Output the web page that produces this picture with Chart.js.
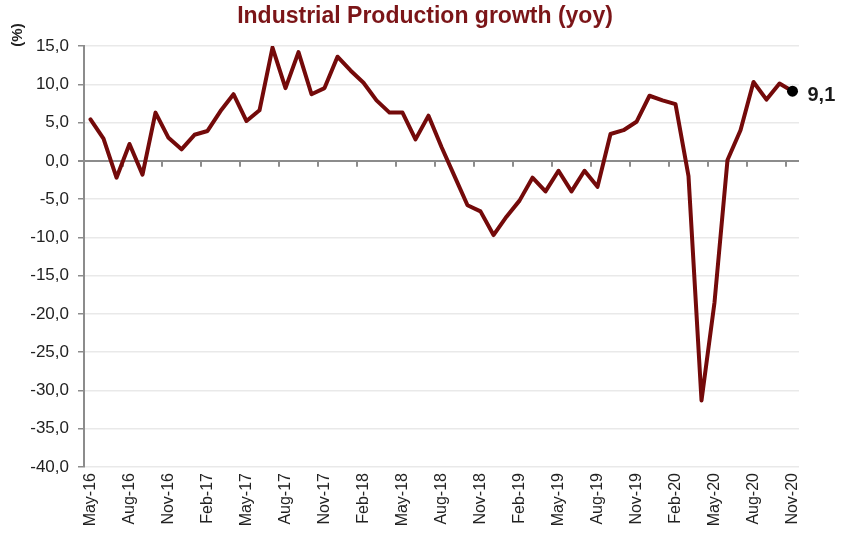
<!doctype html>
<html>
  <head>
    <meta charset="utf-8">
    <title>Industrial Production growth (yoy)</title>
    <style>
      html, body {
        margin: 0;
        background: #fff;
      }
      #wrap {
        width: 849px;
        height: 544px;
      }
    </style>
  </head>
  <body>
    <div id="wrap">
      <canvas id="canvas" width="849" height="544"></canvas>
    </div>

    <script src="https://cdn.jsdelivr.net/npm/chart.js@4/dist/chart.umd.min.js"></script>
    <script>
      var chartTitle = 'Industrial Production growth (yoy)'
      var unitLabel = '(%)'

      var months = [
        'May-16', 'Jun-16', 'Jul-16', 'Aug-16', 'Sep-16', 'Oct-16', 'Nov-16', 'Dec-16',
        'Jan-17', 'Feb-17', 'Mar-17', 'Apr-17', 'May-17', 'Jun-17', 'Jul-17', 'Aug-17', 'Sep-17', 'Oct-17', 'Nov-17', 'Dec-17',
        'Jan-18', 'Feb-18', 'Mar-18', 'Apr-18', 'May-18', 'Jun-18', 'Jul-18', 'Aug-18', 'Sep-18', 'Oct-18', 'Nov-18', 'Dec-18',
        'Jan-19', 'Feb-19', 'Mar-19', 'Apr-19', 'May-19', 'Jun-19', 'Jul-19', 'Aug-19', 'Sep-19', 'Oct-19', 'Nov-19', 'Dec-19',
        'Jan-20', 'Feb-20', 'Mar-20', 'Apr-20', 'May-20', 'Jun-20', 'Jul-20', 'Aug-20', 'Sep-20', 'Oct-20', 'Nov-20'
      ]

      // yoy growth, %
      var ipGrowth = [
        5.4, 2.9, -2.2, 2.2, -1.8, 6.3, 3.0, 1.5,
        3.4, 3.9, 6.5, 8.7, 5.2, 6.6, 14.8, 9.5, 14.2, 8.7, 9.5, 13.6,
        11.8, 10.2, 7.9, 6.3, 6.3, 2.8, 5.9, 1.8, -2.0, -5.8, -6.6, -9.7,
        -7.3, -5.2, -2.2, -4.0, -1.3, -4.0, -1.3, -3.4, 3.5, 4.0, 5.1, 8.5,
        7.9, 7.4, -2.0, -31.3, -18.5, 0.1, 4.0, 10.3, 8.0, 10.1, 9.1
      ]

      var yMin = -40
      var yMax = 15
      var yStep = 5
      var labelEvery = 3

      var fontFamily = '"Liberation Sans", Arial, Helvetica, sans-serif'
      var lineColor = '#740a0a'
      var axisGrey = '#8c8c8c'

      var fmt = function(v) {
        return v.toFixed(1).replace('.', ',')
      }

      var extras = {
        id: 'extras',
        beforeDatasetsDraw: function(chart) {
          var x = chart.scales.x
          var y = chart.scales.y
          var ctx = chart.ctx
          var y0 = y.getPixelForValue(0)
          var half = (x.getPixelForValue(1) - x.getPixelForValue(0)) / 2
          ctx.save()
          ctx.strokeStyle = axisGrey
          ctx.lineWidth = 2
          ctx.beginPath()
          for (var i = 0; i < months.length; i += labelEvery) {
            var px = x.getPixelForValue(i) - half
            ctx.moveTo(px, y0)
            ctx.lineTo(px, y0 + 6)
          }
          ctx.stroke()
          ctx.restore()
        },
        afterDraw: function(chart) {
          var ctx = chart.ctx
          ctx.save()
          // title
          ctx.fillStyle = '#7b1518'
          ctx.font = 'bold 23px ' + fontFamily
          ctx.textAlign = 'center'
          ctx.textBaseline = 'middle'
          ctx.fillText(chartTitle, 425, 17)
          // unit
          ctx.translate(18, 35)
          ctx.rotate(-Math.PI / 2)
          ctx.fillStyle = '#222'
          ctx.font = 'bold 15px ' + fontFamily
          ctx.fillText(unitLabel, 0, 0)
          ctx.restore()
          // last value
          var meta = chart.getDatasetMeta(0)
          var last = meta.data[meta.data.length - 1]
          ctx.save()
          ctx.fillStyle = '#1a1a1a'
          ctx.font = 'bold 20px ' + fontFamily
          ctx.textAlign = 'left'
          ctx.textBaseline = 'middle'
          ctx.fillText(fmt(ipGrowth[ipGrowth.length - 1]), last.x + 15, last.y + 4)
          ctx.restore()
        }
      }

      var lastIdx = ipGrowth.length - 1
      var ctx = document.getElementById('canvas').getContext('2d')
      window.my_chart = new Chart(ctx, {
        type: 'line',
        data: {
          labels: months,
          datasets: [{
            data: ipGrowth,
            borderColor: lineColor,
            borderWidth: 4,
            borderJoinStyle: 'round',
            borderCapStyle: 'round',
            tension: 0,
            fill: false,
            pointRadius: function(c) { return c.dataIndex === lastIdx ? 5.5 : 0 },
            pointBackgroundColor: '#000',
            pointBorderColor: '#000',
            pointBorderWidth: 0
          }]
        },
        options: {
          responsive: false,
          animation: false,
          events: [],
          layout: {
            padding: { left: 0, right: 50, top: 46, bottom: 0 }
          },
          plugins: {
            legend: { display: false },
            title: { display: false },
            tooltip: { enabled: false }
          },
          scales: {
            x: {
              type: 'category',
              offset: true,
              grid: { display: false, drawTicks: false, offset: true },
              border: { display: false },
              afterFit: function(scale) { scale.height = 77 },
              ticks: {
                autoSkip: false,
                minRotation: 90,
                maxRotation: 90,
                padding: 6,
                color: '#222',
                font: { family: fontFamily, size: 16 },
                callback: function(val, idx) {
                  return idx % labelEvery === 0 ? this.getLabelForValue(val) : ''
                }
              }
            },
            y: {
              min: yMin,
              max: yMax,
              afterFit: function(scale) { scale.width = 84 },
              grid: {
                color: function(c) { return c.tick && c.tick.value === 0 ? axisGrey : '#e9e9e9' },
                lineWidth: function(c) { return c.tick && c.tick.value === 0 ? 2 : 1.5 },
                tickColor: axisGrey,
                tickLength: 6,
                drawTicks: true
              },
              border: { display: true, color: axisGrey, width: 2 },
              ticks: {
                stepSize: yStep,
                padding: 9,
                color: '#222',
                font: { family: fontFamily, size: 17 },
                callback: function(v) { return fmt(v) }
              }
            }
          }
        },
        plugins: [extras]
      })
    </script>
  </body>
</html>
